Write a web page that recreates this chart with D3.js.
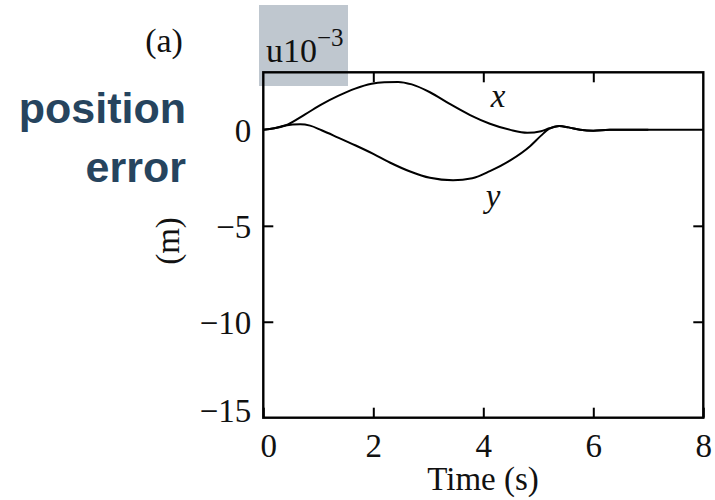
<!DOCTYPE html>
<html>
<head>
<meta charset="utf-8">
<script src="https://cdn.jsdelivr.net/npm/d3@7"></script>
<style>
  html, body { margin: 0; padding: 0; background: #fff; }
  svg { display: block; }
</style>
</head>
<body>
<svg id="chart" width="715" height="500"></svg>
<script>
// Position error of the x and y axes over time (units of 10^-3 m)
const timeX = [0, 0.2, 0.4, 0.76, 1.06, 1.36, 1.67, 1.97, 2.2, 2.45, 2.7, 3.03, 3.39, 3.76, 4.12, 4.49, 4.8, 5.05, 5.2, 5.38, 5.55, 5.76, 6.0, 6.3, 7.0, 8.0];
const errorX = [0, 0.08, 0.23, 0.81, 1.33, 1.77, 2.15, 2.4, 2.48, 2.5, 2.37, 1.96, 1.35, 0.77, 0.32, 0.0, -0.15, -0.07, 0.08, 0.2, 0.13, 0.01, -0.04, 0.0, 0, 0];

const timeY = [0, 0.2, 0.4, 0.67, 0.85, 1.06, 1.36, 1.67, 2.0, 2.3, 2.67, 3.03, 3.45, 3.8, 4.12, 4.49, 4.85, 5.05, 5.2, 5.38, 5.55, 5.76, 6.0, 6.3, 7.0];
const errorY = [0, 0.08, 0.23, 0.29, 0.22, -0.02, -0.4, -0.8, -1.25, -1.7, -2.17, -2.5, -2.63, -2.52, -2.15, -1.59, -0.85, -0.3, 0.06, 0.2, 0.13, 0.01, -0.04, 0, 0];

const xTicks = [0, 2, 4, 6, 8];
const yTicks = [0, -5, -10, -15];
const xDomain = [0, 8];
const yDomain = [-15, 3];

const svg = d3.select("#chart");
const serif = "'Liberation Serif', 'Times New Roman', serif";

const plotLeft = 263.3, plotRight = 703.3, plotTop = 72.3, plotBottom = 417.7;
const x = d3.scaleLinear().domain(xDomain).range([plotLeft, plotRight]);
const y = d3.scaleLinear().domain(yDomain).range([plotBottom, plotTop]);

// Shaded box behind the exponent label
svg.append("rect")
  .attr("x", 259).attr("y", 5).attr("width", 89).attr("height", 81)
  .attr("fill", "#bfc7cf");

svg.append("text")
  .attr("x", 266).attr("y", 62)
  .attr("font-family", serif).attr("font-size", 34).attr("fill", "#111")
  .text("u10")
  .append("tspan")
  .attr("dy", -16).attr("font-size", 25)
  .text("\u22123");

// Panel tag
svg.append("text")
  .attr("x", 164).attr("y", 52).attr("text-anchor", "middle")
  .attr("font-family", serif).attr("font-size", 34).attr("fill", "#111")
  .text("(a)");

// Quantity name
const title = svg.append("g")
  .attr("font-family", "'Liberation Sans', Arial, sans-serif")
  .attr("font-weight", "bold").attr("font-size", 43)
  .attr("fill", "#26445e").attr("text-anchor", "end");
title.append("text").attr("x", 186).attr("y", 123).text("position");
title.append("text").attr("x", 186).attr("y", 182).text("error");

// Axes with inward ticks on all four sides
function styleAxis(g) {
  g.attr("font-family", serif).attr("font-size", 33);
  g.select(".domain").remove();
  g.selectAll(".tick line").attr("stroke", "#000").attr("stroke-width", 2);
  g.selectAll("text").attr("fill", "#111");
}

svg.append("g")
  .attr("transform", `translate(0,${plotBottom})`)
  .call(d3.axisBottom(x).tickValues(xTicks).tickSizeInner(-10).tickSizeOuter(0).tickFormat(d3.format("d")))
  .call(styleAxis)
  .call(g => g.selectAll("text").attr("y", 39.5).attr("dy", null)
    .attr("dx", d => d === 0 ? 5 : 0));

svg.append("g")
  .attr("transform", `translate(0,${plotTop})`)
  .call(d3.axisTop(x).tickValues([2, 4, 6]).tickSizeInner(-10).tickSizeOuter(0).tickFormat(""))
  .call(styleAxis);

svg.append("g")
  .attr("transform", `translate(${plotLeft},0)`)
  .call(d3.axisLeft(y).tickValues(yTicks).tickSizeInner(-10).tickSizeOuter(0)
    .tickFormat(d => d < 0 ? "\u2212" + Math.abs(d) : String(d)))
  .call(styleAxis)
  .call(g => g.selectAll(".tick line").attr("opacity", d => (d === 0 || d === -15) ? 0 : 1))
  .call(g => g.selectAll("text").attr("x", -12).attr("dy", d => d === -15 ? "0.1em" : "0.35em"));

svg.append("g")
  .attr("transform", `translate(${plotRight},0)`)
  .call(d3.axisRight(y).tickValues([-5, -10]).tickSizeInner(-10).tickSizeOuter(0).tickFormat(""))
  .call(styleAxis);

// Frame
svg.append("rect")
  .attr("x", plotLeft).attr("y", plotTop)
  .attr("width", plotRight - plotLeft).attr("height", plotBottom - plotTop)
  .attr("fill", "none").attr("stroke", "#000").attr("stroke-width", 2.4);

// Error curves
const line = d3.line()
  .x(d => x(d[0]))
  .y(d => y(d[1]))
  .curve(d3.curveMonotoneX);

const seriesX = timeX.map((t, i) => [t, errorX[i]]);
const seriesY = timeY.map((t, i) => [t, errorY[i]]);

svg.append("path").datum(seriesX)
  .attr("d", line).attr("fill", "none").attr("stroke", "#000").attr("stroke-width", 2);
svg.append("path").datum(seriesY)
  .attr("d", line).attr("fill", "none").attr("stroke", "#000").attr("stroke-width", 2);

// Curve labels
svg.append("text")
  .attr("x", 498).attr("y", 107).attr("text-anchor", "middle")
  .attr("font-family", serif).attr("font-style", "italic").attr("font-size", 33).attr("fill", "#111")
  .text("x");
svg.append("text")
  .attr("x", 493).attr("y", 207).attr("text-anchor", "middle")
  .attr("font-family", serif).attr("font-style", "italic").attr("font-size", 33).attr("fill", "#111")
  .text("y");

// Axis titles
svg.append("text")
  .attr("x", 483).attr("y", 490).attr("text-anchor", "middle")
  .attr("font-family", serif).attr("font-size", 33).attr("fill", "#111")
  .text("Time (s)");

svg.append("text")
  .attr("transform", "translate(179,241) rotate(-90)")
  .attr("text-anchor", "middle")
  .attr("font-family", serif).attr("font-size", 33).attr("fill", "#111")
  .text("(m)");
</script>
</body>
</html>
